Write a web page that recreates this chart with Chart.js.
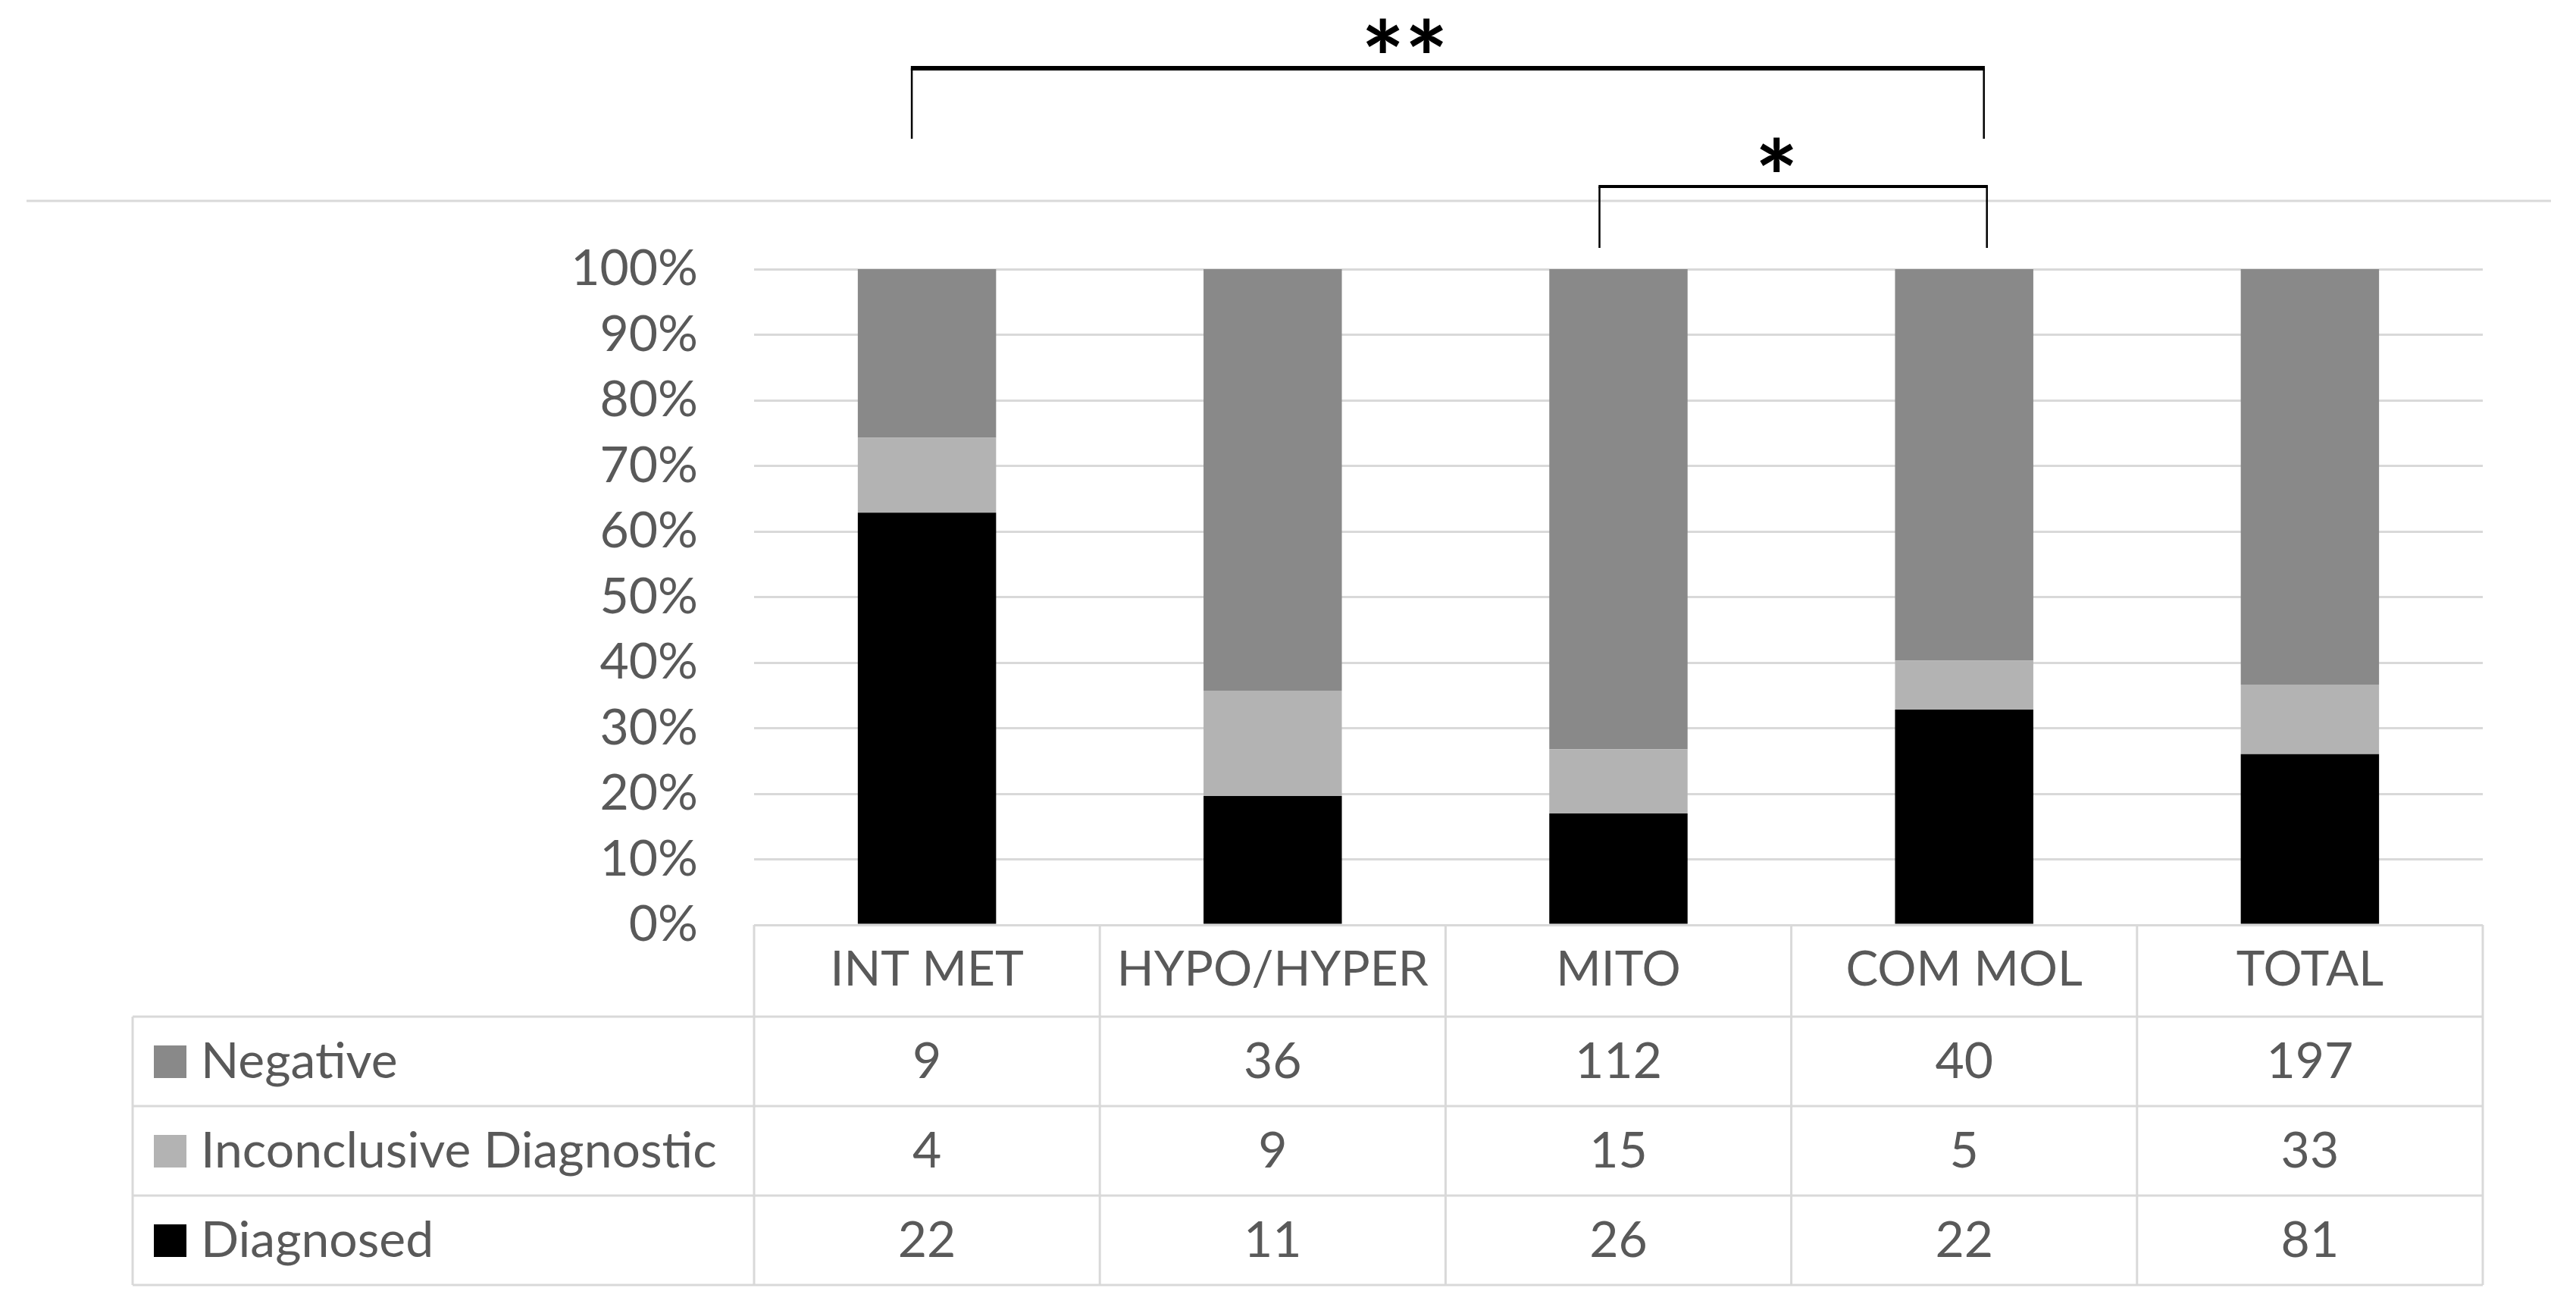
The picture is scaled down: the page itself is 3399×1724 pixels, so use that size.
<!DOCTYPE html>
<html>
<head>
<meta charset="utf-8">
<script src="https://cdn.jsdelivr.net/npm/chart.js@4"></script>
<style>
  html, body { margin: 0; padding: 0; background: #ffffff; }
  canvas { display: block; }
</style>
</head>
<body>
<canvas id="chart" width="3399" height="1724"></canvas>
<script>
// ---- data ----
const categories = ['INT MET', 'HYPO/HYPER', 'MITO', 'COM MOL', 'TOTAL'];
const seriesNames = ['Negative', 'Inconclusive Diagnostic', 'Diagnosed'];
const negative = [9, 36, 112, 40, 197];
const inconclusive = [4, 9, 15, 5, 33];
const diagnosed = [22, 11, 26, 22, 81];
const yTickValues = [0, 0.1, 0.2, 0.3, 0.4, 0.5, 0.6, 0.7, 0.8, 0.9, 1.0];
const brackets = [
  { from: 0, to: 3, label: '**' },
  { from: 2, to: 3, label: '*' }
];

// ---- styles ----
const FONT = 'Lato';
const TEXT = '#595959';
const GRID = '#D9D9D9';
const colors = { 'Negative': '#898989', 'Inconclusive Diagnostic': '#B3B3B3', 'Diagnosed': '#000000' };

const totals = categories.map((_, i) => negative[i] + inconclusive[i] + diagnosed[i]);
const share = arr => arr.map((v, i) => v / totals[i]);
const counts = { 'Negative': negative, 'Inconclusive Diagnostic': inconclusive, 'Diagnosed': diagnosed };

const datasets = [
  { label: 'Diagnosed', data: share(diagnosed) },
  { label: 'Inconclusive Diagnostic', data: share(inconclusive) },
  { label: 'Negative', data: share(negative) }
].map(d => Object.assign(d, {
  backgroundColor: colors[d.label],
  borderWidth: 0,
  barPercentage: 0.4,
  categoryPercentage: 1.0
}));

const tablePlugin = {
  id: 'tablePlugin',
  afterDraw(chart) {
    const ctx = chart.ctx;
    const area = chart.chartArea;
    const xs = chart.scales.x;
    const colW = (area.right - area.left) / categories.length;
    const headerBottom = xs.bottom;
    const rowH = 118;
    const tableLeft = 175;
    const tableBottom = headerBottom + rowH * seriesNames.length;

    ctx.save();
    // top separator line
    ctx.strokeStyle = GRID;
    ctx.lineWidth = 3;
    ctx.beginPath();
    ctx.moveTo(35, area.top - 90);
    ctx.lineTo(3366, area.top - 90);
    ctx.stroke();

    // table grid
    ctx.beginPath();
    for (let k = 0; k <= seriesNames.length; k++) {
      const y = headerBottom + k * rowH;
      ctx.moveTo(tableLeft, y);
      ctx.lineTo(area.right, y);
    }
    ctx.moveTo(tableLeft, headerBottom);
    ctx.lineTo(tableLeft, tableBottom);
    for (let j = 0; j <= categories.length; j++) {
      const x = area.left + j * colW;
      ctx.moveTo(x, area.bottom);
      ctx.lineTo(x, tableBottom);
    }
    ctx.stroke();

    // rows: legend key + values
    ctx.font = '66px ' + FONT;
    ctx.textBaseline = 'middle';
    seriesNames.forEach((name, r) => {
      const cy = headerBottom + r * rowH + rowH / 2;
      ctx.fillStyle = colors[name];
      ctx.fillRect(203, cy - 21, 43, 43);
      ctx.fillStyle = TEXT;
      ctx.textAlign = 'left';
      ctx.fillText(name, 265, cy + 1);
      ctx.textAlign = 'center';
      counts[name].forEach((v, i) => {
        ctx.fillText(String(v), xs.getPixelForValue(i), cy + 1);
      });
    });

    // significance brackets
    ctx.strokeStyle = '#000000';
    ctx.fillStyle = '#000000';
    const specs = [
      { top: area.top - 265, leg: area.top - 172, lw: 6, dl: -20, dr: 26, sx: -57, base: area.top - 229 },
      { top: area.top - 109, leg: area.top - 28, lw: 4, dl: -25, dr: 30, sx: -22, base: area.top - 72 }
    ];
    brackets.forEach((b, k) => {
      const s = specs[k];
      const x1 = xs.getPixelForValue(b.from) + s.dl;
      const x2 = xs.getPixelForValue(b.to) + s.dr;
      ctx.lineWidth = 2.5;
      ctx.beginPath();
      ctx.moveTo(x1, s.leg);
      ctx.lineTo(x1, s.top);
      ctx.moveTo(x2, s.leg);
      ctx.lineTo(x2, s.top);
      ctx.stroke();
      ctx.lineWidth = s.lw;
      ctx.beginPath();
      ctx.moveTo(x1 - 1.25, s.top);
      ctx.lineTo(x2 + 1.25, s.top);
      ctx.stroke();
      ctx.font = 'bold 135px ' + FONT;
      ctx.textAlign = 'center';
      ctx.textBaseline = 'alphabetic';
      ctx.fillText(b.label, (x1 + x2) / 2 + s.sx, s.base);
    });
    ctx.restore();
  }
};

new Chart(document.getElementById('chart'), {
  type: 'bar',
  data: { labels: categories, datasets: datasets },
  options: {
    responsive: false,
    animation: false,
    devicePixelRatio: 1,
    layout: { padding: { left: 0, right: 123, top: 355, bottom: 383 } },
    plugins: { legend: { display: false }, tooltip: { enabled: false } },
    scales: {
      x: {
        stacked: true,
        grid: { display: false },
        border: { display: false },
        ticks: { color: TEXT, font: { family: FONT, size: 64 }, padding: 13 },
        afterFit: s => { s.height = 121; }
      },
      y: {
        stacked: true,
        min: 0,
        max: 1,
        afterBuildTicks: s => { s.ticks = yTickValues.map(v => ({ value: v })); },
        ticks: {
          color: TEXT,
          font: { family: FONT, size: 66 },
          padding: 74,
          callback: v => Math.round(v * 100) + '%'
        },
        grid: { color: GRID, lineWidth: 3, drawTicks: false },
        border: { display: false },
        afterFit: s => { s.width = 995; }
      }
    }
  },
  plugins: [tablePlugin]
});
</script>
</body>
</html>
